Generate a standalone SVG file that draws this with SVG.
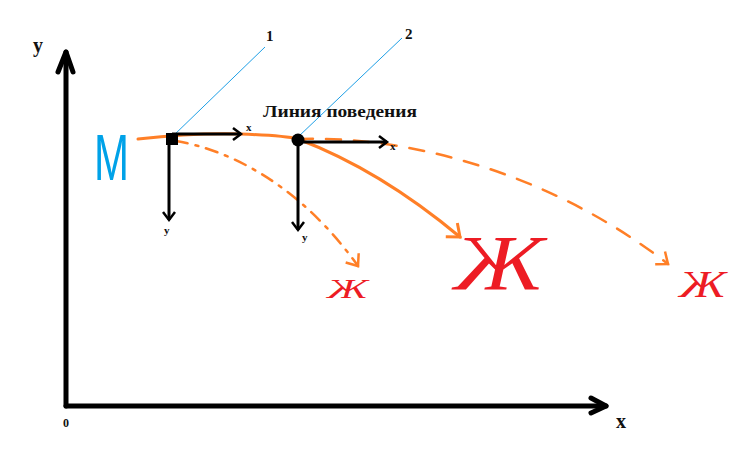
<svg xmlns="http://www.w3.org/2000/svg" width="738" height="449" viewBox="0 0 738 449">
<style>
.lbl{font-family:"Liberation Serif","Times New Roman",serif;font-weight:bold;fill:#111}
.axis{stroke:#000;stroke-width:5;fill:none;stroke-linecap:round;stroke-linejoin:round}
.loc{stroke:#000;stroke-width:3;fill:none}
.lead{stroke:#1e9fe6;stroke-width:1;fill:none}
.or{stroke:#ff7f27;fill:none;stroke-linecap:round}
.zh{font-family:"Liberation Serif",serif;font-style:italic;fill:#ed1c24}
</style>
<defs>
<marker id="ah" markerWidth="20" markerHeight="20" refX="10" refY="10" orient="auto" markerUnits="userSpaceOnUse">
<path d="M2,4 L10,10 L2,16" fill="none" stroke="#000" stroke-width="2.5"/>
</marker>
<marker id="oh" markerWidth="30" markerHeight="30" refX="15" refY="15" orient="auto" markerUnits="userSpaceOnUse">
<path d="M4,6 L15,15 L4,24" fill="none" stroke="#ff7f27" stroke-width="3"/>
</marker>
<marker id="ohs" markerWidth="30" markerHeight="30" refX="15" refY="15" orient="auto" markerUnits="userSpaceOnUse">
<path d="M5,7 L15,15 L5,23" fill="none" stroke="#ff7f27" stroke-width="2.5"/>
</marker>
</defs>
<rect width="738" height="449" fill="#fff"/>
<g id="axes">
<path class="axis" d="M66,406 L66,52"/>
<path class="axis" d="M58,72 L66,52 L73,72"/>
<path class="axis" d="M66,406 L606,406"/>
<path class="axis" d="M591,398 L606,406 L591,413"/>
<text class="lbl" x="33" y="52" font-size="20">y</text>
<text class="lbl" x="63" y="427" font-size="12">0</text>
<text class="lbl" x="616" y="428" font-size="20">x</text>
</g>
<g id="connectors">
<path class="or" stroke-width="3" d="M138,139 C165,136 205,133 240,134 C270,135 290,137 298,139 Q380,170 460,237" marker-end="url(#oh)"/>
<path class="or" stroke-width="2.5" stroke-dasharray="12 8 3 8" d="M176,141 C230,150 300,185 358,266" marker-end="url(#ohs)"/>
<path class="or" stroke-width="2.5" stroke-dasharray="15 13" d="M298,139 C420,135 560,180 668,264" marker-end="url(#ohs)"/>
<path class="lead" d="M172,137 L265,47"/>
<path class="lead" d="M298,137 L402,38"/>
</g>
<g id="point1">
<rect x="166" y="133" width="12" height="12" fill="#000"/>
<path class="loc" d="M172,134 L241,134" marker-end="url(#ah)"/>
<path class="loc" d="M169,140 L169,220" marker-end="url(#ah)"/>
<text class="lbl" x="246" y="131" font-size="11">x</text>
<text class="lbl" x="164" y="234" font-size="11">y</text>
<text class="lbl" x="266" y="41" font-size="15">1</text>
</g>
<g id="point2">
<circle cx="298" cy="140" r="6.5" fill="#000"/>
<path class="loc" d="M298,142 L387,142" marker-end="url(#ah)"/>
<path class="loc" d="M298,140 L298,230" marker-end="url(#ah)"/>
<text class="lbl" x="390" y="150" font-size="11">x</text>
<text class="lbl" x="302" y="241" font-size="11">y</text>
<text class="lbl" x="405" y="39" font-size="15">2</text>
</g>
<g id="title">
<text class="lbl" x="263" y="117" font-size="16" textLength="154" lengthAdjust="spacingAndGlyphs">Линия поведения</text>
</g>
<g id="M">
<text x="94" y="180" font-family="Liberation Sans,sans-serif" font-size="64" fill="#00a2e8" textLength="35" lengthAdjust="spacingAndGlyphs">М</text>
</g>
<g id="zh-small">
<text class="zh" x="327" y="298" font-size="28" textLength="41" lengthAdjust="spacingAndGlyphs">Ж</text>
</g>
<g id="zh-big">
<text class="zh" x="454" y="289" font-size="78" textLength="90" lengthAdjust="spacingAndGlyphs">Ж</text>
</g>
<g id="zh-right">
<text class="zh" x="679" y="297" font-size="38" textLength="47" lengthAdjust="spacingAndGlyphs">Ж</text>
</g>
</svg>
